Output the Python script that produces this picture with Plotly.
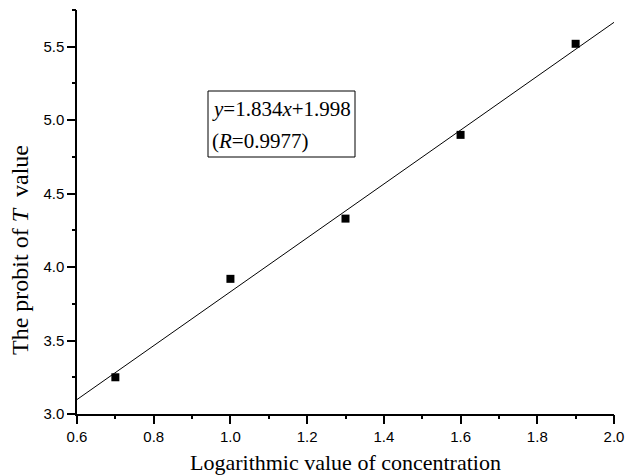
import plotly.graph_objects as go

log_conc = [0.7, 1.0, 1.3, 1.6, 1.9]
probit_T = [3.25, 3.92, 4.33, 4.90, 5.52]
slope = 1.834
intercept = 1.998
fit_x = [0.6, 2.0]
fit_y = [slope * v + intercept for v in fit_x]

serif = "Liberation Serif, Times New Roman, serif"
sans = "Liberation Sans, Arial, sans-serif"

W, H = 626, 475
L, R, T, B = 77, 12, 10, 61
pw, ph = W - L - R, H - T - B


def px(xp):
    return (xp - L) / pw


def py(yp):
    return (H - B - yp) / ph


fig = go.Figure()
# invisible trace carrying the minor-tick overlay axes
fig.add_trace(go.Scatter(x=log_conc, y=probit_T, xaxis="x2", yaxis="y2",
                         mode="markers", marker=dict(opacity=0),
                         hoverinfo="skip", showlegend=False))
fig.add_trace(go.Scatter(x=fit_x, y=fit_y, mode="lines",
                         line=dict(color="black", width=1), showlegend=False))
fig.add_trace(go.Scatter(x=log_conc, y=probit_T, mode="markers",
                         marker=dict(symbol="square", size=8, color="black",
                                     line=dict(width=0)), showlegend=False))

axis_common = dict(showgrid=False, zeroline=False, automargin=False,
                   showline=True, linecolor="black", linewidth=1.5,
                   ticks="outside", ticklen=8, tickwidth=1.5, tickcolor="black",
                   tickfont=dict(family=sans, size=15, color="black"))
minor_common = dict(showgrid=False, zeroline=False, automargin=False,
                    showline=False, showticklabels=False,
                    ticks="outside", ticklen=4, tickwidth=1.5, tickcolor="black")

fig.update_layout(
    width=W, height=H,
    margin=dict(l=L, r=R, t=T, b=B),
    paper_bgcolor="white", plot_bgcolor="white",
    xaxis=dict(range=[0.6, 2.0], dtick=0.2, tick0=0.6, tickformat=".1f", **axis_common),
    yaxis=dict(range=[3.0, 5.75], dtick=0.5, tick0=3.0, tickformat=".1f", **axis_common),
    xaxis2=dict(range=[0.6, 2.0], dtick=0.1, tick0=0.6, overlaying="x",
                anchor="y", side="bottom", **minor_common),
    yaxis2=dict(range=[3.0, 5.75], dtick=0.25, tick0=3.0, overlaying="y",
                anchor="x", side="left", **minor_common),
    shapes=[dict(type="rect", xref="paper", yref="paper",
                 x0=px(208), x1=px(355), y0=py(157), y1=py(91),
                 line=dict(color="black", width=1), fillcolor="white", layer="above")],
    annotations=[
        dict(text="Logarithmic value of concentration",
             xref="paper", yref="paper", x=0.5, y=py(462),
             xanchor="center", yanchor="middle", showarrow=False,
             font=dict(family=serif, size=22, color="black")),
        dict(text="The probit of <i>T</i>\u00a0 value", textangle=-90,
             xref="paper", yref="paper", x=px(20), y=py(250),
             xanchor="center", yanchor="middle", showarrow=False,
             font=dict(family=serif, size=24, color="black")),
        dict(text="<i>y</i>=1.834<i>x</i>+1.998",
             xref="paper", yref="paper", x=px(210), y=py(109),
             xanchor="left", yanchor="middle", align="left", showarrow=False,
             font=dict(family=serif, size=21, color="black")),
        dict(text="(<i>R</i>=0.9977)",
             xref="paper", yref="paper", x=px(210), y=py(141),
             xanchor="left", yanchor="middle", align="left", showarrow=False,
             font=dict(family=serif, size=21, color="black")),
    ],
)

fig.write_html("out.html")
